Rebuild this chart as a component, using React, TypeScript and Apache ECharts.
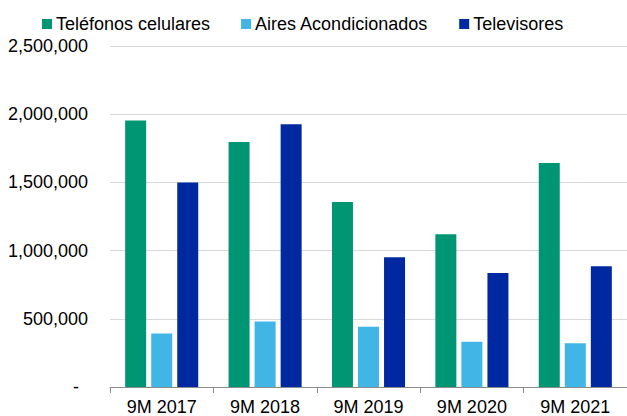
import React, { useEffect, useRef } from "react";
import * as echarts from "echarts";

const categories = ["9M 2017", "9M 2018", "9M 2019", "9M 2020", "9M 2021"];
const seriesNames = ["Teléfonos celulares", "Aires Acondicionados", "Televisores"];
const telefonos = [1953000, 1797000, 1357000, 1120000, 1643000];
const aires = [392000, 480000, 441000, 331000, 321000];
const televisores = [1499000, 1927000, 951000, 835000, 885000];
const colors = ["#009673", "#41B6E6", "#0028A0"];

export default function App() {
  const ref = useRef<HTMLDivElement>(null);
  useEffect(() => {
    if (!ref.current) return;
    const chart = echarts.init(ref.current, undefined, { renderer: "svg" });
    const font = "'Liberation Sans', Arial, sans-serif";
    const mk = (name: string, data: number[], color: string) => ({
      name,
      type: "bar",
      data,
      barWidth: 21,
      barGap: "24%",
      itemStyle: { color },
    });
    chart.setOption({
      animation: false,
      textStyle: { fontFamily: font },
      legend: {
        top: 10,
        left: 37,
        itemWidth: 10,
        itemHeight: 10,
        itemGap: 31,
        icon: "rect",
        textStyle: { fontSize: 18, color: "#000", fontFamily: font, padding: [0, 0, 0, -1] },
        data: seriesNames,
      },
      grid: { left: 110, top: 46, bottom: 28.5, width: 520, containLabel: false },
      xAxis: {
        type: "category",
        data: categories,
        axisLine: { lineStyle: { color: "#8c8c8c", width: 1 } },
        axisTick: { show: true, length: 6, lineStyle: { color: "#8c8c8c" } },
        axisLabel: { fontSize: 18, color: "#000", margin: 11, fontFamily: font },
      },
      yAxis: {
        type: "value",
        min: 0,
        max: 2500000,
        interval: 500000,
        axisLine: { show: false },
        axisTick: { show: false },
        splitLine: { lineStyle: { color: "#d9d9d9", width: 1 } },
        axisLabel: {
          fontSize: 18,
          color: "#000",
          margin: 22,
          fontFamily: font,
          formatter: (v: number) =>
            v === 0 ? "{d|-}" : v.toLocaleString("en-US"),
          rich: {
            d: { fontSize: 18, color: "#000", fontFamily: font, padding: [0, 9, 0, 0] },
          },
        },
      },
      series: [
        mk(seriesNames[0], telefonos, colors[0]),
        mk(seriesNames[1], aires, colors[1]),
        mk(seriesNames[2], televisores, colors[2]),
      ],
    });
    return () => chart.dispose();
  }, []);
  return (
    <div
      ref={ref}
      style={{ position: "fixed", left: 0, top: 0, width: 627, height: 416, background: "#fff" }}
    />
  );
}
